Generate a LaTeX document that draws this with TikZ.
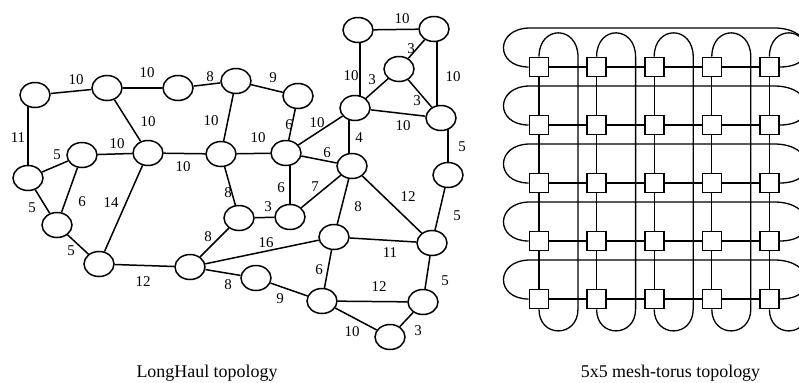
\documentclass[tikz,border=0pt]{standalone}
\usepackage{fontspec}
\setmainfont{Liberation Serif}
\usetikzlibrary{shapes.geometric,backgrounds,calc}
\begin{document}
\begin{tikzpicture}[x=1bp,y=-1bp,
  vert/.style={ellipse,draw,line width=1.5bp,fill=white,minimum width=30bp,minimum height=25bp,inner sep=0pt},
  lab/.style={inner sep=0pt,font=\fontsize{15}{15}\selectfont},
  lnk/.style={line width=1.5bp},
  sqnode/.style={draw,line width=1.6bp,fill=white,minimum size=19bp,inner sep=0pt},
  meshline/.style={line width=1.3bp},
  captext/.style={font=\fontsize{18}{18}\selectfont,anchor=base,inner sep=0pt}]
\useasboundingbox (0,0) rectangle (799,382);

% ---------- LongHaul graph ----------
\foreach \n/\x/\y in {A/35/95, B/107/88, C/178/88, D/236/81, E/82/155, F/148/153,
  G/221/154, H/28/178, I/57/225, J/99/264, K/190/267, L/298/96, M/286/153,
  N/355/108, O/358/30, P/434/29, Q/399/69, R/441/118, S/352/166, T/448/175,
  U/239/218, V/290/217, W/334/237, X/432/243, Y/256/278, Z/322/301,
  AA/423/302, AB/390/337}
  \node[vert] (\n) at (\x,\y) {};

\begin{scope}[on background layer]
\foreach \a/\b in {A/B, B/C, C/D, D/L, B/F, D/G, E/F, H/E, F/G, G/M, L/M, M/N,
  O/P, P/Q, Q/N, Q/R, N/R, M/S, H/I, E/I, F/J, I/J, J/K, G/U, U/V, V/S,
  K/U, K/W, S/W, S/X, T/X, W/X, K/Y, Y/Z, W/Z, Z/AA, X/AA, Z/AB, AA/AB}
  \draw[lnk] (\a) -- (\b);
\draw[lnk] (H.center) -- (H.center |- A.center);
\draw[lnk] (V.center) -- (V.center |- M.center);
\draw[lnk] ([xshift=-3bp]S.center) -- ([xshift=-3bp]S.center |- N.center);
\draw[lnk] (T.center) -- (T.center |- R.center);
\draw[lnk] ([xshift=-4bp]R.center) -- ([xshift=-4bp]R.center |- P.center);
\draw[lnk] ([xshift=2bp]O.center) -- ([xshift=2bp]O.center |- N.center);
\end{scope}

\foreach \nm/\x/\y/\t in {lAB/76/80/10, lBC/147/73/10, lCD/210/77/8, lDL/273/78/9,
  lAH/18/138/11, lBF/148/122/10, lDG/211/121/10, lEF/117/144/10, lHE/57/155/5,
  lFG/183/167/10, lGM/258/138/10, lLM/289/125/6, lMN/317/123/10, lNO/351/76/10,
  lOP/402/19/10, lPQ/411/49/3, lQN/372/80/3, lQR/417/101/3, lPR/453/77/10,
  lNR/403/126/10, lNS/359/138/4, lMS/327/153/6, lRT/462/147/5, lHI/32/208/5,
  lEI/82/202/6, lFJ/111/203/14, lIJ/71/251/5, lJK/143/282/12, lGU/228/193/8,
  lMV/281/188/6, lUV/268/207/3, lVS/315/187/7, lKU/208/237/8, lKW/266/243/16,
  lSW/358/207/8, lSX/408/197/12, lTX/457/216/5, lWX/390/253/11, lKY/228/285/8,
  lYZ/280/299/9, lWZ/319/270/6, lZAA/379/287/12, lXAA/445/281/5,
  lZAB/352/332/10, lAAAB/418/331/3}
  \node[lab] (\nm) at (\x,\y) {\t};

\node[captext] (cap1) at (207,377) {LongHaul topology};

% ---------- 5x5 mesh-torus ----------
\foreach \r in {1,...,5}
  \foreach \c in {1,...,5}
    \node[sqnode] (s\r\c) at ({539+57.6*(\c-1)},{67+58*(\r-1)}) {};

\begin{scope}[on background layer]
\clip (0,0) rectangle (799,382);
\foreach \r in {1,...,5}{
  \foreach \c/\d in {1/2,2/3,3/4,4/5}
    \draw[meshline] (s\r\c) -- (s\r\d);
  \draw[meshline] (s\r1.west) .. controls +(-34,0) and +(-35,0) ..
    ($(s\r1.center)+(-9,-39)$) -- ($(s\r5.center)+(5,-39)$)
    .. controls +(40,0) and +(40,0) .. (s\r5.east);
}
\foreach \c in {1,...,5}{
  \foreach \r/\q in {1/2,2/3,3/4,4/5}
    \draw[meshline] (s\r\c) -- (s\q\c);
  \draw[meshline] (s1\c.north) .. controls +(0,-32) and +(0,-32) ..
    ($(s1\c.center)+(39,-10)$) -- ($(s5\c.center)+(39,10)$)
    .. controls +(0,29) and +(0,29) .. (s5\c.south);
}
\end{scope}

\node[captext] (cap2) at (670.5,377) {5x5 mesh-torus topology};
\end{tikzpicture}
\end{document}
